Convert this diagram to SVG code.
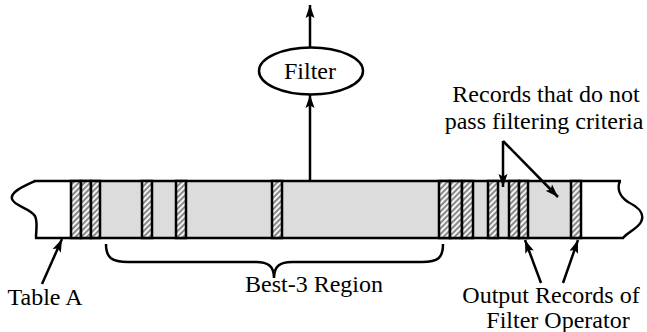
<svg xmlns="http://www.w3.org/2000/svg" width="647" height="332" viewBox="0 0 647 332">
  <defs>
    <pattern id="hatch" width="4" height="4" patternUnits="userSpaceOnUse" patternTransform="rotate(45)">
      <rect width="4" height="4" fill="#f4f4f4"/>
      <rect width="2" height="4" fill="#8a8a8a"/>
    </pattern>
    <marker id="arrow" viewBox="0 0 13 10" refX="13" refY="5" markerWidth="13" markerHeight="10" markerUnits="userSpaceOnUse" orient="auto">
      <path d="M0,0.5 L13,5 L0,9.5 L2.5,5 Z" fill="#000"/>
    </marker>
    <style>
      .edge { fill: none; stroke: #000; stroke-width: 2.5; }
      .arr { fill: none; stroke: #000; stroke-width: 2.5; marker-end: url(#arrow); }
      .rec { fill: url(#hatch); stroke: #000; stroke-width: 2.5; }
      .lbl { font-size: 24px; fill: #000; text-anchor: middle; }
    </style>
  </defs>

  <!-- table body -->
  <g id="table">
    <rect x="71" y="181" width="510" height="57" fill="#dcdcdc"/>
    <path class="edge" d="M35,181 C24,186 10,192 12,199 C14,206 30,208 35,216 C38,222 36,230 36,238"/>
    <path class="edge" d="M620,181 C617,188 619,196 628,202 C640,208 645,214 641,222 C637,229 628,232 623,238"/>
    <line class="edge" x1="34" y1="181" x2="621" y2="181"/>
    <line class="edge" x1="35" y1="238" x2="624" y2="238"/>
  </g>

  <!-- records -->
  <g id="records">
    <rect class="rec" x="71" y="181" width="10" height="57"/>
    <rect class="rec" x="81" y="181" width="10" height="57"/>
    <rect class="rec" x="91" y="181" width="9" height="57"/>
    <rect class="rec" x="142" y="181" width="10" height="57"/>
    <rect class="rec" x="176" y="181" width="10" height="57"/>
    <rect class="rec" x="272" y="181" width="10" height="57"/>
    <rect class="rec" x="439" y="181" width="11" height="57"/>
    <rect class="rec" x="450" y="181" width="12" height="57"/>
    <rect class="rec" x="462" y="181" width="11" height="57"/>
    <rect class="rec" x="488" y="181" width="10" height="57"/>
    <rect class="rec" x="509" y="181" width="10" height="57"/>
    <rect class="rec" x="519" y="181" width="9" height="57"/>
    <rect class="rec" x="571" y="181" width="10" height="57"/>
  </g>

  <g font-family="'Liberation Serif', 'Times New Roman', 'DejaVu Serif', serif">
    <!-- filter operator -->
    <g id="filter">
      <ellipse cx="311" cy="71" rx="52" ry="23.5" fill="#fff" stroke="#000" stroke-width="2.5"/>
      <text class="lbl" x="310" y="79">Filter</text>
    </g>

    <!-- best-3 brace -->
    <g id="brace">
      <path class="edge" d="M106,244 C106,258 112,262 128,262 L256,262 C268,262 274,266 274,278 C274,266 280,262 292,262 L422,262 C438,262 443,258 443,244"/>
      <text class="lbl" x="314" y="292">Best-3 Region</text>
    </g>

    <g id="label-table">
      <text class="lbl" x="45" y="305">Table A</text>
    </g>

    <g id="label-rejected">
      <text class="lbl" x="546" y="102">Records that do not</text>
      <text class="lbl" x="544" y="129">pass filtering criteria</text>
    </g>

    <g id="label-output">
      <text class="lbl" x="551" y="303">Output Records of</text>
      <text class="lbl" x="558" y="328">Filter Operator</text>
    </g>
  </g>

  <!-- connectors -->
  <g id="connectors">
    <line class="arr" x1="310" y1="181" x2="310" y2="95"/>
    <line class="arr" x1="310" y1="47" x2="310" y2="5"/>
    <line class="arr" x1="503" y1="141" x2="503" y2="187"/>
    <line class="arr" x1="503" y1="141" x2="558" y2="197"/>
    <line class="arr" x1="42" y1="284" x2="62" y2="239"/>
    <line class="arr" x1="541" y1="283" x2="525" y2="240"/>
    <line class="arr" x1="563" y1="283" x2="578" y2="240"/>
  </g>
</svg>
